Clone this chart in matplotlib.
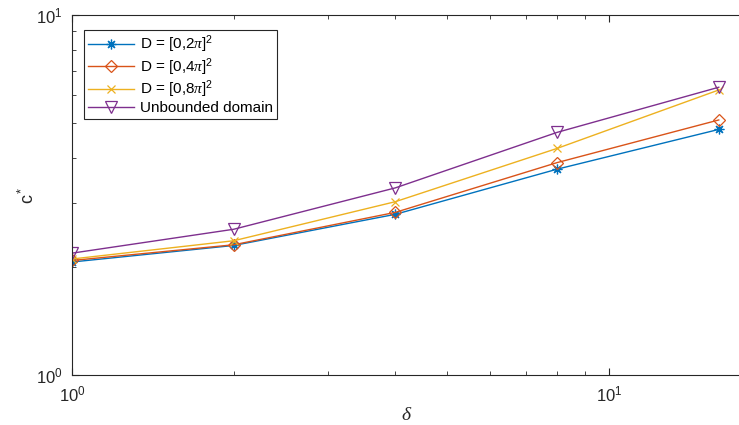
import matplotlib
matplotlib.use("Agg")
import matplotlib.pyplot as plt
from matplotlib.ticker import LogLocator, NullFormatter, FixedLocator, FixedFormatter

plt.rcParams['font.family'] = ['Liberation Sans', 'DejaVu Sans']
plt.rcParams['mathtext.fontset'] = 'custom'
plt.rcParams['mathtext.rm'] = 'Liberation Sans'
plt.rcParams['mathtext.it'] = 'Liberation Serif:italic'

delta = [1, 2, 4, 8, 16]
c_2pi = [2.06, 2.29, 2.795, 3.73, 4.81]
c_4pi = [2.08, 2.30, 2.83, 3.89, 5.11]
c_8pi = [2.10, 2.36, 3.03, 4.26, 6.19]
c_unb = [2.18, 2.54, 3.31, 4.72, 6.30]
labels = [r'D = [0,2$\pi$]$\mathrm{^2}$', r'D = [0,4$\pi$]$\mathrm{^2}$',
          r'D = [0,8$\pi$]$\mathrm{^2}$', 'Unbounded domain']
xticks = [1, 10]
yticks = [1, 10]
ticklabels = [r'$\mathrm{10^0}$', r'$\mathrm{10^1}$']

colors = ['#0072BD', '#D95319', '#EDB120', '#7E2F8E']
markers = [(8, 2, 0), 'D', 'x', 'v']
sizes = [7, 6, 6, 8]

fig = plt.figure(figsize=(7.39, 4.25), dpi=100)
ax = fig.add_axes([72/739, 1-375/425, (741-72)/739, 360/425])

series = [c_2pi, c_4pi, c_8pi, c_unb]
for s, col, m, ms, lab in zip(series, colors, markers, sizes, labels):
    ax.plot(delta, s, color=col, marker=m, markersize=ms, linewidth=1.0,
            markeredgewidth=0.9, markerfacecolor='none', label=lab)

ax.set_xscale('log')
ax.set_yscale('log')
ax.set_xlim(1, 17.6)
ax.set_ylim(1, 10)

for sp in ax.spines.values():
    sp.set_color('#262626')
    sp.set_linewidth(0.8)

ax.xaxis.set_major_locator(FixedLocator(xticks))
ax.xaxis.set_major_formatter(FixedFormatter(ticklabels))
ax.yaxis.set_major_locator(FixedLocator(yticks))
ax.yaxis.set_major_formatter(FixedFormatter(ticklabels))
ax.tick_params(which='both', direction='in', top=True, right=False, colors='#262626',
               labelsize=12, labelcolor='#262626')
ax.tick_params(which='major', length=5)
ax.tick_params(which='minor', length=3)
ax.tick_params(axis='x', which='major', pad=6.5)
ax.tick_params(axis='y', which='major', pad=6.5)
ax.xaxis.set_minor_locator(LogLocator(base=10, subs=range(2, 10)))
ax.yaxis.set_minor_locator(LogLocator(base=10, subs=range(2, 10)))
ax.xaxis.set_minor_formatter(NullFormatter())
ax.yaxis.set_minor_formatter(NullFormatter())

ax.set_xlabel(r'$\delta$', fontsize=14, color='#262626', labelpad=2)
ax.set_ylabel(r'c$\mathrm{^*}$', fontsize=13, color='#262626', labelpad=-1)

leg = ax.legend(loc='upper left', bbox_to_anchor=(12/669, 345/360), fontsize=11,
                fancybox=False, framealpha=1, edgecolor='#262626', borderaxespad=0,
                handlelength=3.0, borderpad=0.25, labelspacing=0.05, handletextpad=0.4)
leg.get_frame().set_linewidth(0.8)

fig.savefig('out.png', dpi=100)
